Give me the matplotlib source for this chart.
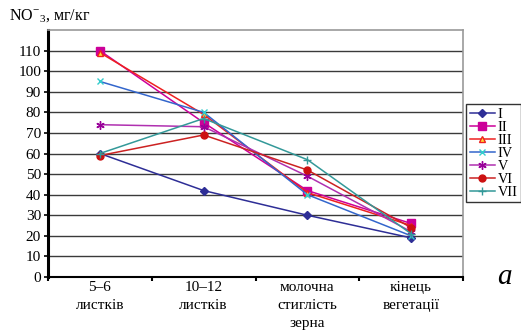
import matplotlib.pyplot as plt
import numpy as np

plt.rcParams['font.family'] = ['Liberation Serif', 'DejaVu Serif']
plt.rcParams['mathtext.fontset'] = 'custom'
plt.rcParams['mathtext.rm'] = 'Liberation Serif'

# categories (growth stages)
stages = ['5–6\nлистків', '10–12\nлистків', 'молочна\nстиглість\nзерна', 'кінець\nвегетації']

# nitrate content, mg/kg
s_I = [60, 42, 30, 19]
s_II = [110, 75, 42, 26]
s_III = [109, 79, 41, 25]
s_IV = [95, 80, 40, 20]
s_V = [74, 73, 49, 22]
s_VI = [59, 69, 52, 24]
s_VII = [60, 77, 57, 21]

names = ['I', 'II', 'III', 'IV', 'V', 'VI', 'VII']
series = [s_I, s_II, s_III, s_IV, s_V, s_VI, s_VII]

# (line colour, marker, marker face, marker edge, size)
styles = [
    ('#2e2e96', 'D', '#2e2e96', '#2e2e96', 4),
    ('#cc0099', 's', '#cc0099', '#cc0099', 5.5),
    ('#ee2020', '^', '#ffdd33', '#ee2020', 5),
    ('#3366cc', 'x', '#33cccc', '#33cccc', 5),
    ('#b030b0', (6, 2, 0), '#990099', '#990099', 6),
    ('#cc2222', 'o', '#cc1111', '#cc1111', 5),
    ('#339999', '+', '#339999', '#339999', 6),
]

fig = plt.figure(figsize=(5.21, 3.31), dpi=100)
ax = fig.add_axes([48 / 521, 1 - 277 / 331, (463 - 48) / 521, (277 - 30) / 331])

x = np.arange(len(stages))
for name, vals, st in zip(names, series, styles):
    col, mk, fc, ec, ms = st
    ax.plot(x, vals, color=col, lw=1.1, marker=mk, markerfacecolor=fc,
            markeredgecolor=ec, markersize=ms, markeredgewidth=1.0, label=name)

ax.set_xlim(-0.5, len(stages) - 0.5)
ax.set_ylim(0, 120)
ax.set_yticks(np.arange(0, 111, 10))
ax.set_xticks(x)
ax.set_xticklabels(stages, fontsize=11, linespacing=1.5)
ax.set_xticks(np.arange(-0.5, len(stages), 1), minor=True)
ax.tick_params(axis='x', which='major', length=0, pad=3)
ax.tick_params(axis='x', which='minor', length=3, width=1.5, direction='out')
ax.tick_params(axis='y', length=3, width=1.2, labelsize=11, pad=2)

ax.yaxis.grid(True, color='#3a3a3a', lw=1.0)
ax.set_axisbelow(True)
ax.spines['left'].set_linewidth(2.2)
ax.spines['left'].set_color('black')
ax.spines['bottom'].set_linewidth(1.5)
ax.spines['bottom'].set_color('black')
for s in ['top', 'right']:
    ax.spines[s].set_color('#999999')
    ax.spines[s].set_linewidth(1.2)

fig.text(9 / 521, 1 - 16 / 331, r'NO$^{-}$$_{3}$, мг/кг', fontsize=11.5, va='center', ha='left')

leg = fig.legend(loc='upper left', bbox_to_anchor=(466 / 521, 1 - 104 / 331),
                 fontsize=10.3, frameon=True, fancybox=False, edgecolor='black',
                 handlelength=1.8, handletextpad=0.15, labelspacing=0.0,
                 borderpad=0.25, borderaxespad=0)
leg.get_frame().set_linewidth(1.0)

fig.text(497 / 521, 1 - 277 / 331, 'a', fontsize=21, style='italic', ha='left', va='center')

fig.savefig('out.png', dpi=100)
